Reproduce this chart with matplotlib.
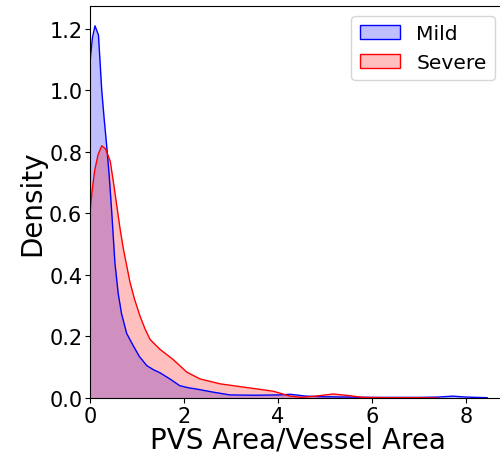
import matplotlib
matplotlib.use("Agg")
import matplotlib.pyplot as plt
from matplotlib.patches import Patch

# density curves
mild_x = [0.0, 0.05, 0.106, 0.18, 0.25, 0.30, 0.355, 0.41, 0.46, 0.53, 0.60, 0.67, 0.78, 0.92,
          1.05, 1.21, 1.35, 1.49, 1.70, 1.91, 2.10, 2.27, 2.62, 2.98, 3.5, 4.04, 4.26,
          4.6, 5.0, 5.5, 6.0, 6.5, 7.0, 7.4, 7.72, 8.0, 8.45]
mild_y = [1.09, 1.17, 1.21, 1.18, 1.0, 0.91, 0.82, 0.72, 0.61, 0.44, 0.34, 0.275, 0.21, 0.17,
          0.135, 0.105, 0.092, 0.082, 0.062, 0.040, 0.033, 0.029, 0.019, 0.010, 0.009, 0.010, 0.012,
          0.006, 0.004, 0.003, 0.002, 0.002, 0.002, 0.003, 0.006, 0.003, 0.001]
severe_x = [0.0, 0.05, 0.10, 0.17, 0.25, 0.33, 0.43, 0.50, 0.57, 0.64, 0.71, 0.85, 0.95, 1.06, 1.17, 1.28,
            1.49, 1.77, 2.06, 2.34, 2.77, 3.19, 3.62, 3.9, 4.26, 4.5, 4.8, 5.17, 5.5,
            5.8, 6.2, 6.6, 7.0, 7.4]
severe_y = [0.605, 0.68, 0.74, 0.79, 0.82, 0.81, 0.77, 0.70, 0.625, 0.55, 0.485, 0.377, 0.32, 0.268, 0.225, 0.19,
            0.158, 0.125, 0.084, 0.062, 0.046, 0.037, 0.028, 0.022, 0.006, 0.002, 0.006, 0.013, 0.008,
            0.002, 0.001, 0.001, 0.001, 0.0]

fig = plt.figure(figsize=(5, 4.56), dpi=100)
# the right spine falls just outside the saved picture
ax = fig.add_axes([0.18, 0.125, 0.83, 0.86])

ax.fill_between(mild_x, mild_y, color="blue", alpha=0.25, linewidth=0)
ax.plot(mild_x, mild_y, color="blue", linewidth=1)
ax.fill_between(severe_x, severe_y, color="red", alpha=0.25, linewidth=0)
ax.plot(severe_x, severe_y, color="red", linewidth=1)

ax.set_xlim(0, 8.83)
ax.set_ylim(0, 1.275)
ax.set_xticks([0, 2, 4, 6, 8])
ax.set_yticks([0.0, 0.2, 0.4, 0.6, 0.8, 1.0, 1.2])
ax.tick_params(labelsize=15, pad=2)
ax.set_xlabel("PVS Area/Vessel Area", fontsize=20, labelpad=0)
ax.set_ylabel("Density", fontsize=20, labelpad=2)

handles = [Patch(facecolor=(0, 0, 1, 0.25), edgecolor="blue", label="Mild"),
           Patch(facecolor=(1, 0, 0, 0.25), edgecolor="red", label="Severe")]
ax.legend(handles=handles, loc="upper right", fontsize=14.6)

fig.savefig("out.png")
